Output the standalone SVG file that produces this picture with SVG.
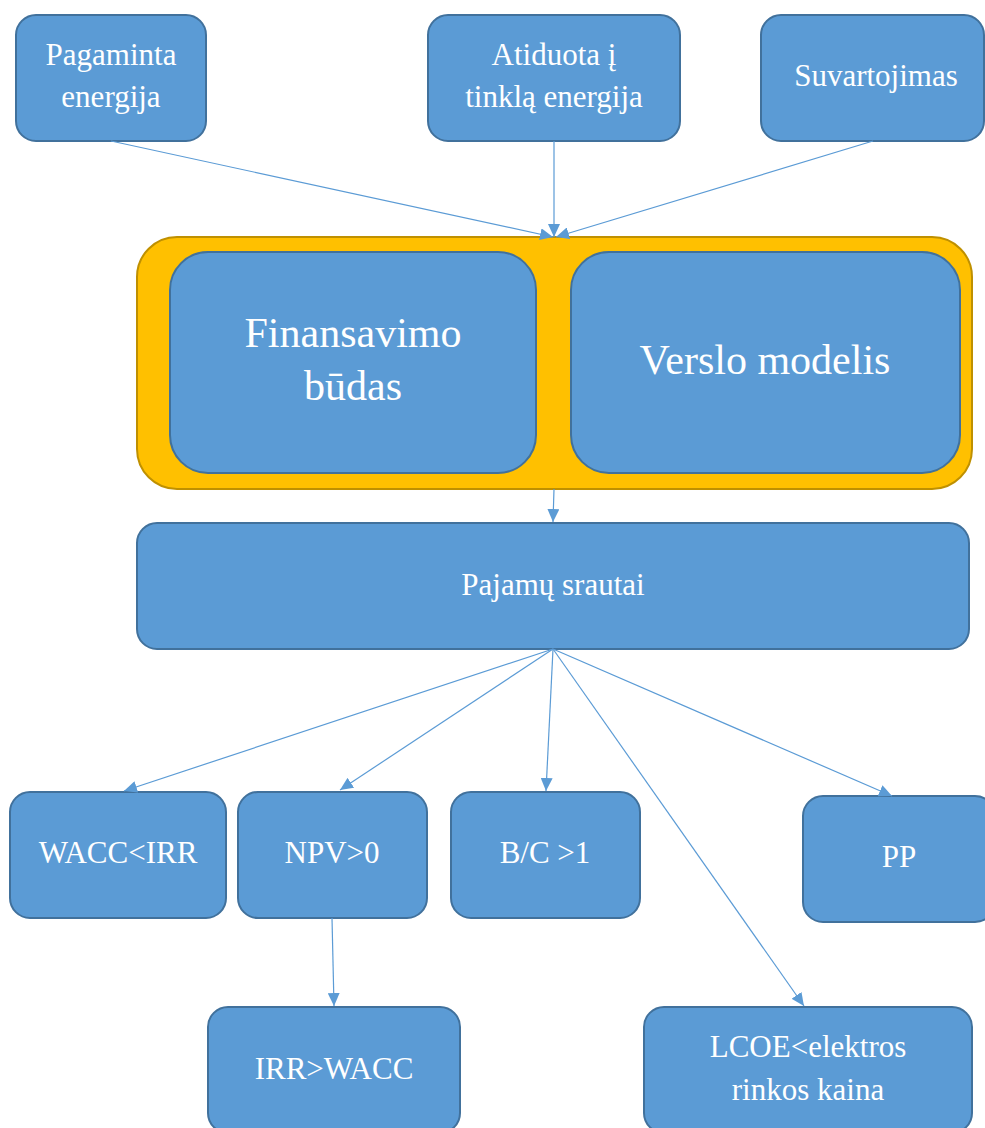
<svg xmlns="http://www.w3.org/2000/svg" width="985" height="1128" viewBox="0 0 985 1128">
<defs>
<marker id="ah" markerUnits="userSpaceOnUse" markerWidth="13" markerHeight="12" refX="13" refY="6" orient="auto">
<path d="M0,0 L13,6 L0,12 z" fill="#5B9BD5"/>
</marker>
<style>
.box{fill:#5B9BD5;stroke:#41719C;stroke-width:2}
.cont{fill:#FFC000;stroke:#BF9000;stroke-width:2}
text{fill:#FFFFFF;font-family:'Liberation Serif','Times New Roman',serif;font-size:31px;text-anchor:middle}
.tb{font-size:42px}
.c line{stroke:#5B9BD5;stroke-width:1.2;marker-end:url(#ah)}
</style>
</defs>
<rect width="985" height="1128" fill="#FFFFFF"/>
<g id="n1"><rect class="box" x="16" y="15" width="190" height="126" rx="20"/><text x="111" y="65">Pagaminta</text><text x="111" y="107">energija</text></g>
<g id="n2"><rect class="box" x="428" y="15" width="252" height="126" rx="20"/><text x="554" y="65">Atiduota į</text><text x="554" y="107">tinklą energija</text></g>
<g id="n3"><rect class="box" x="761" y="15" width="223" height="126" rx="20"/><text x="876" y="86">Suvartojimas</text></g>
<g id="container"><rect class="cont" x="137" y="237" width="835" height="252" rx="40"/></g>
<g id="n4"><rect class="box" x="170" y="252" width="366" height="221" rx="38"/><text class="tb" x="353" y="347">Finansavimo</text><text class="tb" x="353" y="400">būdas</text></g>
<g id="n5"><rect class="box" x="571" y="252" width="389" height="221" rx="38"/><text class="tb" x="765" y="374">Verslo modelis</text></g>
<g id="n6"><rect class="box" x="137" y="523" width="832" height="126" rx="20"/><text x="553" y="595">Pajamų srautai</text></g>
<g id="n7"><rect class="box" x="10" y="792" width="216" height="126" rx="20"/><text x="118" y="863">WACC&lt;IRR</text></g>
<g id="n8"><rect class="box" x="238" y="792" width="189" height="126" rx="20"/><text x="332" y="863">NPV&gt;0</text></g>
<g id="n9"><rect class="box" x="451" y="792" width="189" height="126" rx="20"/><text x="545" y="863">B/C &gt;1</text></g>
<g id="n10"><rect class="box" x="803" y="796" width="192" height="126" rx="20"/><text x="899" y="867">PP</text></g>
<g id="n11"><rect class="box" x="208" y="1007" width="252" height="126" rx="20"/><text x="334" y="1079">IRR&gt;WACC</text></g>
<g id="n12"><rect class="box" x="644" y="1007" width="328" height="126" rx="20"/><text x="808" y="1057">LCOE&lt;elektros</text><text x="808" y="1100">rinkos kaina</text></g>
<g id="connectors" class="c">
<line x1="111" y1="141" x2="553" y2="237"/>
<line x1="554" y1="141" x2="554" y2="237"/>
<line x1="873" y1="141" x2="556" y2="237"/>
<line x1="554" y1="489" x2="553" y2="522"/>
<line x1="553" y1="649" x2="124" y2="791"/>
<line x1="553" y1="649" x2="340" y2="790"/>
<line x1="553" y1="649" x2="546" y2="791"/>
<line x1="553" y1="649" x2="804" y2="1006"/>
<line x1="553" y1="649" x2="892" y2="796"/>
<line x1="332" y1="918" x2="334" y2="1006"/>
</g>
</svg>
